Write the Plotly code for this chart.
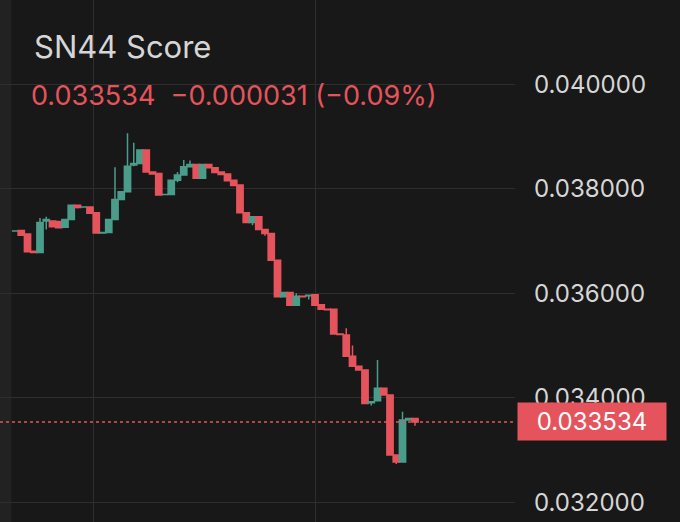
import plotly.graph_objects as go

opens = [0.03719,0.03720,0.03713,0.03680,0.03678,0.03738,0.03738,0.03737,0.03726,0.03741,
         0.03768,0.03765,0.03765,0.03754,0.03715,0.03716,0.03741,0.03779,0.03794,0.03845,
         0.03848,0.03874,0.03832,0.03829,0.03789,0.03789,0.03816,0.03826,0.03842,0.03846,
         0.03820,0.03846,0.03840,0.03832,0.03828,0.03816,0.03807,0.03754,0.03735,0.03746,
         0.03722,0.03714,0.03663,0.03593,0.03601,0.03577,0.03594,0.03595,0.03597,0.03578,
         0.03569,0.03569,0.03522,0.03520,0.03479,0.03460,0.03453,0.03390,0.03394,0.03418,
         0.03405,0.03290,0.03277,0.03357,0.03360]
highs = [0.03720,0.03720,0.03713,0.03680,0.03744,0.03746,0.03739,0.03738,0.03742,0.03769,
         0.03769,0.03766,0.03766,0.03754,0.03716,0.03741,0.03841,0.03794,0.03906,0.03888,
         0.03874,0.03875,0.03832,0.03829,0.03790,0.03816,0.03832,0.03855,0.03854,0.03846,
         0.03846,0.03846,0.03840,0.03832,0.03828,0.03816,0.03807,0.03754,0.03746,0.03746,
         0.03722,0.03714,0.03663,0.03601,0.03601,0.03600,0.03594,0.03597,0.03597,0.03578,
         0.03569,0.03569,0.03522,0.03533,0.03500,0.03460,0.03453,0.03393,0.03472,0.03418,
         0.03405,0.03290,0.03373,0.03361,0.03361]
lows = [0.03718,0.03711,0.03679,0.03678,0.03678,0.03722,0.03727,0.03724,0.03726,0.03741,
        0.03762,0.03764,0.03753,0.03715,0.03715,0.03716,0.03741,0.03779,0.03794,0.03843,
        0.03848,0.03832,0.03828,0.03788,0.03788,0.03789,0.03812,0.03826,0.03842,0.03820,
        0.03820,0.03840,0.03830,0.03827,0.03815,0.03806,0.03754,0.03735,0.03730,0.03722,
        0.03710,0.03663,0.03593,0.03593,0.03577,0.03577,0.03592,0.03588,0.03577,0.03569,
        0.03567,0.03522,0.03520,0.03479,0.03460,0.03453,0.03389,0.03385,0.03394,0.03405,
        0.03290,0.03273,0.03277,0.03357,0.03346]
closes = [0.03719,0.03711,0.03679,0.03678,0.03735,0.03741,0.03727,0.03725,0.03741,0.03768,
          0.03764,0.03765,0.03753,0.03715,0.03716,0.03741,0.03779,0.03794,0.03843,0.03848,
          0.03874,0.03832,0.03828,0.03788,0.03789,0.03816,0.03826,0.03842,0.03846,0.03820,
          0.03846,0.03840,0.03831,0.03827,0.03815,0.03806,0.03754,0.03735,0.03746,0.03722,
          0.03714,0.03663,0.03593,0.03601,0.03577,0.03594,0.03593,0.03596,0.03577,0.03569,
          0.03568,0.03522,0.03521,0.03479,0.03460,0.03453,0.03389,0.03392,0.03418,0.03405,
          0.03290,0.03277,0.03357,0.03360,0.033534]
ytick_vals = [0.032, 0.034, 0.036, 0.038, 0.040]
ytick_text = ["0.032000", "0.034000", "0.036000", "0.038000", "0.040000"]
last_price = 0.033534
title = "SN44 Score"
subtitle = "0.033534  \u22120.000031 (\u22120.09%)"

GREEN = "#4a9d8a"
RED = "#e5545c"
idx = list(range(len(opens)))

fig = go.Figure(go.Candlestick(
    x=idx, open=opens, high=highs, low=lows, close=closes,
    increasing=dict(line=dict(color=GREEN, width=1.5), fillcolor=GREEN),
    decreasing=dict(line=dict(color=RED, width=1.5), fillcolor=RED),
    whiskerwidth=0, showlegend=False, hoverinfo="skip"))

fig.add_hline(y=last_price, line=dict(color=RED, width=1.5, dash="dot"))
fig.add_shape(type="rect", xref="paper", yref="paper", x0=0, x1=0.022, y0=0, y1=1,
              fillcolor="#222222", line_width=0, layer="below")

fig.add_annotation(text=title, xref="paper", yref="paper", x=0.062, y=0.91,
                   xanchor="left", yanchor="middle", showarrow=False,
                   font=dict(size=31, color="#d6d6d6", family="Inter"))
fig.add_annotation(text=subtitle, xref="paper", yref="paper", x=0.056, y=0.818,
                   xanchor="left", yanchor="middle", showarrow=False,
                   font=dict(size=27, color=RED, family="Inter"))
fig.add_annotation(text=f"{last_price:.6f}", xref="paper", yref="y", x=1.004, y=last_price,
                   xanchor="left", yanchor="middle", showarrow=False,
                   bgcolor=RED, borderpad=4, width=140,
                   font=dict(size=24, color="#ffffff", family="Inter"))

fig.update_layout(
    width=680, height=522, margin=dict(l=0, r=165, t=0, b=0),
    paper_bgcolor="#181818", plot_bgcolor="#181818", boxgap=0, boxgroupgap=0,
    xaxis=dict(range=[-2.4, 80], rangeslider=dict(visible=False),
               tickvals=[12.5, 48], showticklabels=False,
               showgrid=True, gridcolor="#2e2e2e", zeroline=False),
    yaxis=dict(range=[0.03162, 0.04161], side="right", tickvals=ytick_vals,
               ticktext=ytick_text, ticklabelstandoff=18,
               tickfont=dict(size=24, color="#d6d6d6", family="Inter"),
               showgrid=True, gridcolor="#2e2e2e", zeroline=False),
)
fig.write_html("out.html", config={"displayModeBar": False},
               post_script="document.body.style.margin='0';document.body.style.background='#181818';")
